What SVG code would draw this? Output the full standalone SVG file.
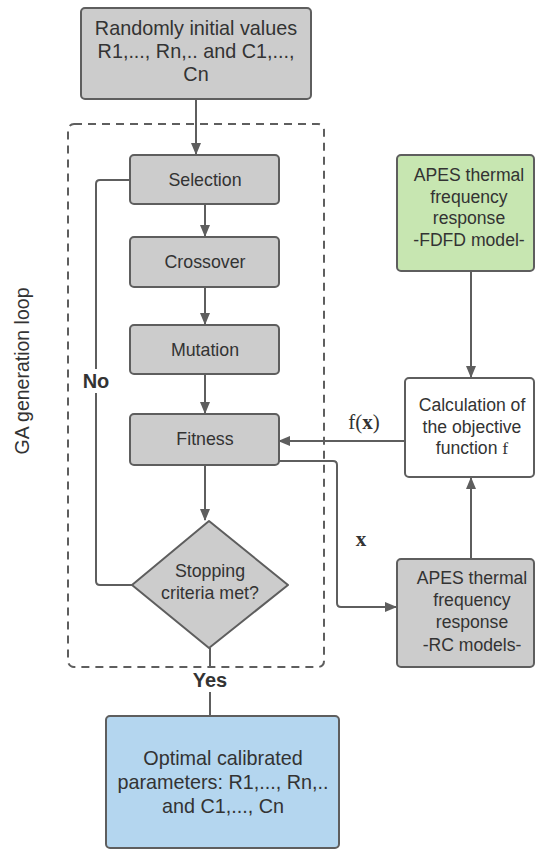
<svg xmlns="http://www.w3.org/2000/svg" width="535" height="850" viewBox="0 0 535 850">
<defs>
<style>
.box{stroke:#5e5e5e;stroke-width:2}
.g{fill:#cccccc}
.t{font-family:"Liberation Sans",Arial,sans-serif;fill:#333333;text-anchor:middle;dominant-baseline:central}
.c{fill:none;stroke:#5e5e5e;stroke-width:2}
.s{font-family:"Liberation Serif","Times New Roman",serif;fill:#333333;text-anchor:middle;dominant-baseline:central}
</style>
<marker id="ah" markerWidth="12" markerHeight="10" refX="11" refY="5" orient="auto" markerUnits="userSpaceOnUse">
<path d="M0,0 L12,5 L0,10 Z" fill="#5e5e5e"/>
</marker>
</defs>
<rect width="535" height="850" fill="#ffffff"/>
<rect x="68" y="124" width="256" height="543" rx="6" fill="none" stroke="#5e5e5e" stroke-width="2" stroke-dasharray="8,6"/>
<text class="t" font-size="19.5" transform="translate(22,371) rotate(-90)">GA generation loop</text>
<g id="connectors">
<path class="c" d="M196,99 V154" marker-end="url(#ah)"/>
<path class="c" d="M205,204 V236" marker-end="url(#ah)"/>
<path class="c" d="M205,287 V324" marker-end="url(#ah)"/>
<path class="c" d="M205,374 V413" marker-end="url(#ah)"/>
<path class="c" d="M205,465 V520" marker-end="url(#ah)"/>
<path class="c" d="M132,585 H100 Q96,585 96,581 V184 Q96,180 100,180 H130"/>
<path class="c" d="M210,648 V716"/>
<path class="c" d="M471,271 V377" marker-end="url(#ah)"/>
<path class="c" d="M405,441 H279" marker-end="url(#ah)"/>
<path class="c" d="M278,461 H333 Q337,461 337,465 V603 Q337,607 341,607 H396" marker-end="url(#ah)"/>
<path class="c" d="M471,559 V478" marker-end="url(#ah)"/>
<rect x="76" y="369" width="40" height="24" fill="#ffffff"/>
<text class="t" x="96" y="381" font-size="20" font-weight="bold">No</text>
<rect x="186" y="668" width="48" height="24" fill="#ffffff"/>
<text class="t" x="210" y="680" font-size="20" font-weight="bold">Yes</text>
<text class="s" x="364" y="422" font-size="21">f(<tspan font-weight="bold">x</tspan>)</text>
<text class="s" x="361" y="539" font-size="21" font-weight="bold">x</text>
</g>
<g id="start">
<rect class="box g" x="81" y="8" width="230" height="91" rx="4"/>
<text class="t" x="196" y="28" font-size="19.8">Randomly initial values</text>
<text class="t" x="196" y="51" font-size="19.8">R1,..., Rn,.. and C1,...,</text>
<text class="t" x="196" y="74" font-size="19.8">Cn</text>
</g>
<g id="selection">
<rect class="box g" x="130" y="155" width="149" height="49" rx="4"/>
<text class="t" x="205" y="180" font-size="17.8">Selection</text>
</g>
<g id="crossover">
<rect class="box g" x="130" y="237" width="149" height="50" rx="4"/>
<text class="t" x="205" y="262" font-size="17.8">Crossover</text>
</g>
<g id="mutation">
<rect class="box g" x="130" y="325" width="149" height="49" rx="4"/>
<text class="t" x="205" y="350" font-size="17.8">Mutation</text>
</g>
<g id="fitness">
<rect class="box g" x="130" y="414" width="149" height="51" rx="4"/>
<text class="t" x="205" y="439" font-size="17.8">Fitness</text>
</g>
<g id="stopping">
<path class="box g" d="M209,521 L288,585 L209,648 L132,585 Z" stroke-linejoin="round"/>
<text class="t" x="210" y="571" font-size="17.8">Stopping</text>
<text class="t" x="210" y="593" font-size="17.8">criteria met?</text>
</g>
<g id="optimal">
<rect class="box" x="106" y="716" width="233" height="132" rx="4" fill="#b4d6ef"/>
<text class="t" x="223" y="758" font-size="19.8">Optimal calibrated</text>
<text class="t" x="223" y="782" font-size="19.8">parameters: R1,..., Rn,..</text>
<text class="t" x="223" y="806" font-size="19.8">and C1,..., Cn</text>
</g>
<g id="fdfd">
<rect class="box" x="397" y="155" width="137" height="116" rx="4" fill="#c7e6b1"/>
<text class="t" x="469" y="175" font-size="17.6">APES thermal</text>
<text class="t" x="469" y="197" font-size="17.6">frequency</text>
<text class="t" x="469" y="218" font-size="17.6">response</text>
<text class="t" x="469" y="240" font-size="17.6">-FDFD model-</text>
</g>
<g id="objective">
<rect class="box" x="405" y="378" width="129" height="99" rx="4" fill="#ffffff"/>
<text class="t" x="472" y="405" font-size="17.6">Calculation of</text>
<text class="t" x="472" y="427" font-size="17.6">the objective</text>
<text class="t" x="472" y="448" font-size="17.6">function <tspan font-family="Liberation Serif,serif">f</tspan></text>
</g>
<g id="rc">
<rect class="box g" x="397" y="559" width="137" height="108" rx="4"/>
<text class="t" x="472" y="578" font-size="17.6">APES thermal</text>
<text class="t" x="472" y="600" font-size="17.6">frequency</text>
<text class="t" x="472" y="622" font-size="17.6">response</text>
<text class="t" x="472" y="645" font-size="17.6">-RC models-</text>
</g>
</svg>
